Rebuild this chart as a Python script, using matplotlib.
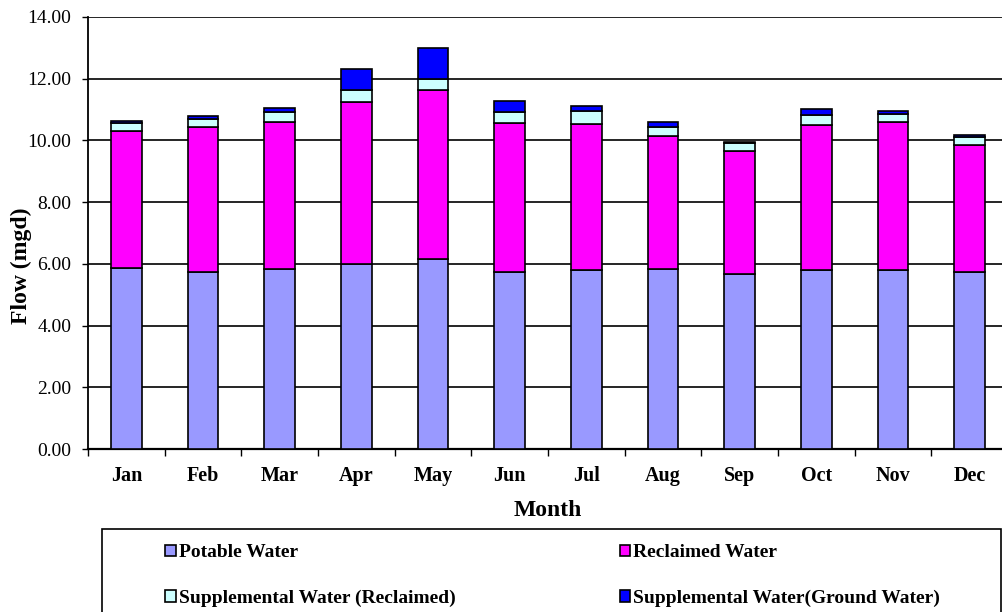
import matplotlib
matplotlib.use("Agg")
import matplotlib.pyplot as plt
from matplotlib.patches import Patch, Rectangle
import numpy as np

months = ["Jan", "Feb", "Mar", "Apr", "May", "Jun", "Jul", "Aug", "Sep", "Oct", "Nov", "Dec"]
potable = [5.85, 5.74, 5.83, 6.00, 6.16, 5.74, 5.79, 5.84, 5.68, 5.79, 5.79, 5.74]
reclaimed = [4.47, 4.68, 4.76, 5.26, 5.47, 4.84, 4.74, 4.29, 3.97, 4.70, 4.80, 4.12]
supp_reclaimed = [0.25, 0.27, 0.32, 0.37, 0.36, 0.35, 0.41, 0.31, 0.26, 0.35, 0.26, 0.24]
supp_ground = [0.07, 0.10, 0.15, 0.68, 1.00, 0.35, 0.17, 0.15, 0.05, 0.18, 0.11, 0.08]

series = [
    ("Potable Water", potable, "#9999FF"),
    ("Reclaimed Water", reclaimed, "#FF00FF"),
    ("Supplemental Water (Reclaimed)", supp_reclaimed, "#CCFFFF"),
    ("Supplemental Water(Ground Water)", supp_ground, "#0000FF"),
]

plt.rcParams['font.family'] = ['Liberation Serif', 'DejaVu Serif']

W, H = 1003, 612
fig = plt.figure(figsize=(W / 100, H / 100), dpi=100)
ax = fig.add_axes([88 / W, (H - 449) / H, 920 / W, 432 / H])

x = np.arange(len(months))
bottom = np.zeros(len(months))
handles = []
for name, vals, col in series:
    vals = np.array(vals)
    ax.bar(x, vals, bottom=bottom, width=0.4, color=col, edgecolor="black", linewidth=1.2, zorder=3)
    bottom += vals
    handles.append(Patch(facecolor=col, edgecolor="black", linewidth=1.2, label=name))

ax.set_xlim(-0.5, len(months) - 0.5)
ax.set_ylim(0, 14)
yt = np.arange(0, 14.01, 2)
ax.set_yticks(yt)
ax.set_yticklabels([f"{v:.2f}" for v in yt], fontsize=14)
ax.set_xticks(x)
ax.set_xticklabels(months, fontsize=14.5, fontweight="bold")
ax.set_xticks(np.arange(-0.5, len(months), 1), minor=True)
ax.tick_params(axis="x", which="major", length=0, pad=12)
ax.tick_params(axis="x", which="minor", length=5, width=1, direction="out")
ax.tick_params(axis="y", length=4, width=1, direction="out", pad=8)
ax.yaxis.grid(True, color="black", linewidth=1.2, zorder=0)
ax.set_axisbelow(True)
for s in ["top", "right"]:
    ax.spines[s].set_visible(False)
ax.spines["left"].set_linewidth(1.3)
ax.spines["bottom"].set_linewidth(1.6)

ax.set_xlabel("Month", fontsize=17, fontweight="bold", labelpad=10)
ax.set_ylabel("Flow (mgd)", fontsize=17, fontweight="bold", va="center")
ax.yaxis.set_label_coords((21 - 88) / 920, (449 - 266) / 432)

# legend box
fig.patches.append(Rectangle((102 / W, -0.01), (1001 - 102) / W, (H - 529) / H + 0.01,
                             transform=fig.transFigure, fill=False, edgecolor="black", linewidth=1.2))
order = [0, 2, 1, 3]
leg = fig.legend(handles=[handles[i] for i in order], ncol=2, loc="upper left", mode="expand",
                 bbox_to_anchor=(165 / W, (H - 545) / H, (940 - 165) / W, 0.001),
                 frameon=False, prop={"size": 14, "weight": "bold"},
                 handlelength=0.55, handleheight=0.55, handletextpad=0.15, labelspacing=1.45,
                 borderaxespad=0, borderpad=0)

fig.savefig("out.png", dpi=100)
